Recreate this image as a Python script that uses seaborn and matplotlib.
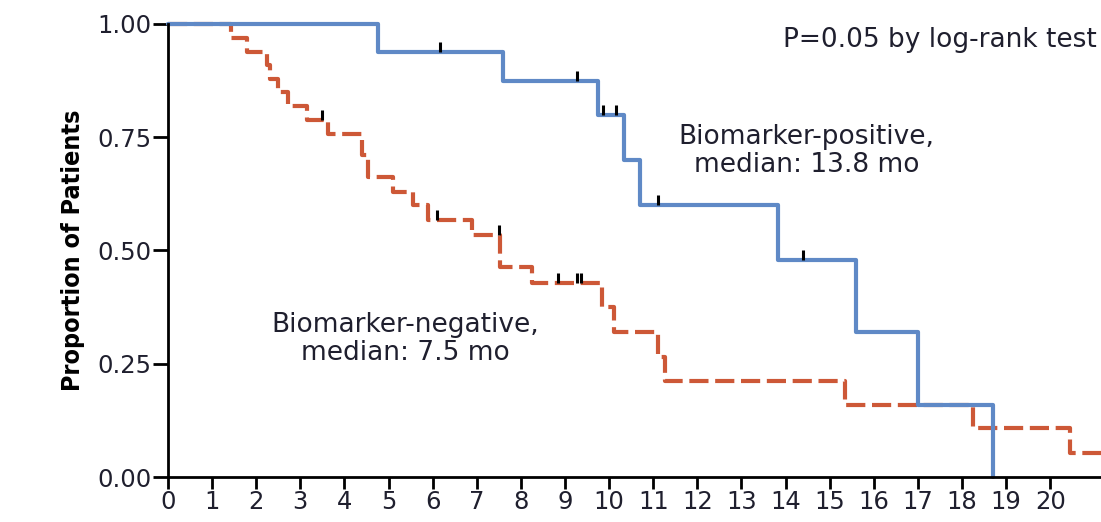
import matplotlib
matplotlib.use("Agg")
import matplotlib.pyplot as plt
import seaborn as sns
import pandas as pd

# Kaplan-Meier step estimates (months, survival proportion)
pos_time = [0.0, 4.76, 7.6, 9.75, 10.34, 10.7, 13.83, 15.6, 17.0, 18.7]
pos_surv = [1.0, 0.9375, 0.875, 0.80, 0.70, 0.60, 0.48, 0.32, 0.16, 0.0]
pos_censor_time = [6.17, 9.27, 9.86, 10.16, 11.1, 14.4]

neg_time = [0.0, 1.43, 1.8, 2.24, 2.32, 2.5, 2.72, 3.14, 3.63, 4.39, 4.54,
            5.1, 5.56, 5.9, 6.89, 7.52, 8.24, 9.83, 10.1, 11.1, 11.27,
            15.35, 18.25, 20.45, 21.15]
neg_surv = [1.0, 0.97, 0.939, 0.909, 0.879, 0.849, 0.818, 0.788, 0.757, 0.71, 0.663,
            0.63, 0.60, 0.567, 0.534, 0.464, 0.428, 0.376, 0.321, 0.265, 0.212,
            0.159, 0.108, 0.053, 0.053]
neg_censor_time = [3.48, 6.09, 7.5, 8.84, 9.28, 9.36]

x_ticks = list(range(0, 21))
y_ticks = [0.0, 0.25, 0.50, 0.75, 1.00]

POS_COLOR = "#5f89c6"
NEG_COLOR = "#cd5837"
TEXT_COLOR = "#1f1f2e"

sns.set_theme(style="ticks")
plt.rcParams["font.family"] = ["DejaVu Sans"]

fig = plt.figure(figsize=(11.01, 5.22), dpi=100)
ax = fig.add_axes([0.1526, 0.0862, 0.8474, 0.868])

pos_df = pd.DataFrame({"time": pos_time, "surv": pos_surv})
neg_df = pd.DataFrame({"time": neg_time, "surv": neg_surv})

sns.lineplot(data=neg_df, x="time", y="surv", ax=ax, color=NEG_COLOR,
             linewidth=3.0, drawstyle="steps-post", sort=False,
             estimator=None, clip_on=False,
             linestyle=(0, (4.6, 1.6)))
sns.lineplot(data=pos_df, x="time", y="surv", ax=ax, color=POS_COLOR,
             linewidth=3.0, drawstyle="steps-post", sort=False,
             estimator=None, clip_on=False)


def surv_at(times, survs, t):
    val = survs[0]
    for tt, s in zip(times, survs):
        if tt <= t:
            val = s
    return val


# Censoring marks: short black ticks sitting on the curve
for times, survs, cens in [(pos_time, pos_surv, pos_censor_time),
                           (neg_time, neg_surv, neg_censor_time)]:
    ys = [surv_at(times, survs, c) for c in cens]
    ax.vlines(cens, ys, [y + 0.022 for y in ys], colors="black",
              linewidth=2.2, zorder=5)

ax.set_xlim(0, 21.15)
ax.set_ylim(0, 1.0)
ax.set_xticks(x_ticks)
ax.set_xticklabels([str(v) for v in x_ticks])
ax.set_yticks(y_ticks)
ax.set_yticklabels([f"{v:.2f}" for v in y_ticks])
ax.set_xlabel("")
ax.set_ylabel("Proportion of Patients", fontsize=18, color="black",
              family="DejaVu Sans", fontstretch="condensed",
              fontweight="bold", labelpad=9)

for side in ["top", "right"]:
    ax.spines[side].set_visible(False)
for side in ["left", "bottom"]:
    ax.spines[side].set_color("black")
    ax.spines[side].set_linewidth(2.0)

ax.tick_params(axis="x", direction="out", length=8.5, width=2, color="black",
               labelsize=17.5, labelcolor=TEXT_COLOR, pad=1)
ax.tick_params(axis="y", direction="out", length=11, width=2, color="black",
               labelsize=17.5, labelcolor=TEXT_COLOR, pad=1)

ax.text(0.995, 0.965, "P=0.05 by log-rank test", transform=ax.transAxes,
        ha="right", va="center", fontsize=19, color=TEXT_COLOR)
ax.text(14.47, 0.72, "Biomarker-positive,\nmedian: 13.8 mo", ha="center",
        va="center", fontsize=19, color=TEXT_COLOR, linespacing=1.1)
ax.text(5.37, 0.305, "Biomarker-negative,\nmedian: 7.5 mo", ha="center",
        va="center", fontsize=19, color=TEXT_COLOR, linespacing=1.1)

fig.savefig("out.png", dpi=100)
